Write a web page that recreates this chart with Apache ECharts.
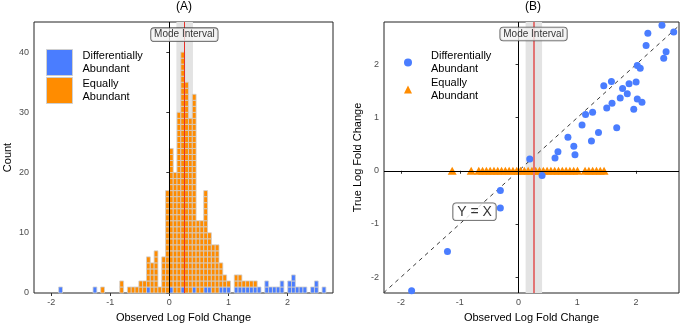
<!DOCTYPE html>
<html>
<head>
<meta charset="utf-8">
<script src="https://cdn.jsdelivr.net/npm/echarts@6/dist/echarts.min.js"></script>
<style>
  html, body { margin: 0; padding: 0; background: #fff; }
  #chart { width: 685px; height: 326px; }
</style>
</head>
<body>
<div id="chart"></div>
<script>
// histogram bins (centre of first bin, bin width) and counts per bin
const binStart = -1.84;
const binWidth = 0.0646;
const blueCounts = [
  1, 0, 0, 0, 0, 0, 0, 0, 0, 1,
  0, 0, 0, 0, 0, 0, 0, 0, 0, 0,
  0, 0, 0, 1, 0, 0, 0, 0, 0, 1,
  0, 0, 1, 0, 0, 1, 0, 0, 1, 1,
  0, 0, 1, 1, 1, 0, 1, 1, 1, 1,
  1, 1, 1, 0, 2, 1, 1, 1, 2, 0,
  2, 3, 1, 1, 1, 0, 1, 2, 0, 1
];
const orangeCounts = [
  0, 0, 0, 0, 0, 0, 0, 0, 0, 0,
  0, 1, 0, 0, 0, 0, 2, 0, 1, 1,
  1, 2, 2, 5, 5, 7, 1, 6, 17, 23,
  20, 30, 39, 35, 29, 32, 12, 12, 16, 9,
  8, 8, 4, 2, 1, 0, 2, 2, 1, 1,
  1, 1, 0, 0, 0, 0, 0, 0, 0, 0,
  0, 0, 0, 0, 0, 0, 0, 0, 0, 0
];

// differentially abundant taxa: observed vs true log fold change
const daObserved = [-1.82, -1.21, -0.31, -0.31, 0.19, 0.40, 0.62, 0.67, 0.84, 0.94,
  0.96, 1.08, 1.14, 1.26, 1.24, 1.36, 1.45, 1.50, 1.58, 1.59,
  1.67, 1.73, 1.77, 1.85, 1.88, 1.96, 2.00, 2.02, 2.02, 2.07,
  2.10, 2.17, 2.20, 2.44, 2.47, 2.51, 2.64];
const daTrue = [-2.26, -1.52, -0.70, -0.37, 0.22, -0.09, 0.24, 0.36, 0.63, 0.46,
  0.30, 0.86, 1.06, 1.10, 0.56, 0.72, 1.60, 1.18, 1.68, 1.27,
  0.81, 1.37, 1.55, 1.45, 1.64, 1.16, 1.67, 1.35, 1.98, 1.93,
  1.29, 2.36, 2.59, 2.74, 2.12, 2.24, 2.61];

const lfcTicks = [-2, -1, 0, 1, 2];
const countTicks = [0, 10, 20, 30, 40];
const trueTicks = [-2, -1, 0, 1, 2];

const modeLow = 0.12;
const modeHigh = 0.40;
const modeValue = 0.255;
const diagEnds = [-2.5, 3];

const BLUE = '#4a7dff';
const ORANGE = '#ff8c00';
const CELL_EDGE = '#cfcfcf';
const FONT = 'Liberation Sans, Arial, sans-serif';

const binCenter = k => binStart + k * binWidth;

const blueBins = [];
const orangeBins = [];
const eaPoints = [];
blueCounts.forEach((n, k) => { if (n > 0) blueBins.push([binCenter(k), n, 0]); });
orangeCounts.forEach((n, k) => {
  if (n > 0) {
    orangeBins.push([binCenter(k), n, blueCounts[k]]);
    eaPoints.push([binCenter(k), 0]);
  }
});
const daPoints = daObserved.map((x, i) => [x, daTrue[i]]);

function renderCells(params, api) {
  const x = api.value(0);
  const n = api.value(1);
  const base = api.value(2);
  const fill = api.visual('color');
  const children = [];
  for (let j = 0; j < n; j++) {
    const p0 = api.coord([x - binWidth / 2, base + j + 1]);
    const p1 = api.coord([x + binWidth / 2, base + j]);
    children.push({
      type: 'rect',
      shape: { x: p0[0], y: p0[1], width: p1[0] - p0[0], height: p1[1] - p0[1] },
      style: { fill: fill, stroke: CELL_EDGE, lineWidth: 0.8 }
    });
  }
  return { type: 'group', children: children };
}

const tickLabel = { color: '#4d4d4d', fontSize: 9, fontFamily: FONT, margin: 5 };
const axisName = { color: '#000', fontSize: 11, fontFamily: FONT };

function valueAxis(gridIndex, min, max, ticks, name, nameGap) {
  return {
    type: 'value', gridIndex, min, max, name,
    nameLocation: 'middle', nameGap, nameTextStyle: axisName,
    axisLine: { show: false },
    axisTick: { show: true, length: 3, customValues: ticks, lineStyle: { color: '#333' } },
    axisLabel: Object.assign({ customValues: ticks }, tickLabel),
    splitLine: { show: false }
  };
}

const boxLabel = {
  show: true, position: 'inside', fontFamily: FONT, color: '#000',
  backgroundColor: '#f2f2f2', borderColor: '#333', borderWidth: 0.8,
  borderRadius: 3
};

const titleText = { fontSize: 12, fontWeight: 'normal', fontFamily: FONT, color: '#000' };

const chart = echarts.init(document.getElementById('chart'));

chart.setOption({
  animation: false,
  title: [
    { text: '(A)', left: 184, top: 1, padding: 0, textAlign: 'center', textStyle: titleText },
    { text: '(B)', left: 533, top: 1, padding: 0, textAlign: 'center', textStyle: titleText }
  ],
  grid: [
    { left: 34, top: 22, width: 299, height: 271, show: true, borderColor: '#222',
      borderWidth: 1, containLabel: false, outerBoundsMode: 'none' },
    { left: 384, top: 22, width: 295, height: 271, show: true, borderColor: '#222',
      borderWidth: 1, containLabel: false, outerBoundsMode: 'none' }
  ],
  legend: [
    {
      orient: 'vertical', left: 46, top: 49, padding: 0, itemWidth: 26, itemHeight: 26, itemGap: 1,
      selectedMode: false,
      data: [
        { name: 'Differentially Abundant', icon: 'rect',
          itemStyle: { color: BLUE, borderColor: CELL_EDGE, borderWidth: 1 } },
        { name: 'Equally Abundant', icon: 'rect',
          itemStyle: { color: ORANGE, borderColor: CELL_EDGE, borderWidth: 1 } }
      ],
      formatter: n => n.replace(' ', '\n'),
      textStyle: { fontSize: 11, lineHeight: 12.5, fontFamily: FONT, color: '#000', padding: [0, 0, 0, 5] }
    },
    {
      orient: 'vertical', left: 404, top: 50, padding: 0, itemWidth: 8, itemHeight: 8, itemGap: 2,
      selectedMode: false,
      data: [
        { name: 'Differentially Abundant', icon: 'circle', itemStyle: { color: BLUE, borderWidth: 0 } },
        { name: 'Equally Abundant', icon: 'triangle', itemStyle: { color: ORANGE, borderWidth: 0 } }
      ],
      formatter: n => n.replace(' ', '\n'),
      textStyle: { fontSize: 11, lineHeight: 12.5, fontFamily: FONT, color: '#000', padding: [0, 0, 0, 14] }
    }
  ],
  xAxis: [
    valueAxis(0, -2.29, 2.77, lfcTicks, 'Observed Log Fold Change', 19),
    valueAxis(1, -2.29, 2.73, lfcTicks, 'Observed Log Fold Change', 19)
  ],
  yAxis: [
    valueAxis(0, 0, 45, countTicks, 'Count', 21),
    valueAxis(1, -2.3, 2.8, trueTicks, 'True Log Fold Change', 21)
  ],
  series: [
    // left panel: mode interval and reference lines
    {
      type: 'line', xAxisIndex: 0, yAxisIndex: 0, data: [], z: 1, silent: true,
      markArea: { silent: true, itemStyle: { color: '#e3e3e3' },
        data: [[{ xAxis: modeLow }, { xAxis: modeHigh }]] },
      markLine: { silent: true, symbol: ['none', 'none'], label: { show: false },
        data: [
          { xAxis: 0, lineStyle: { color: '#000', width: 1, type: 'solid' } },
          { xAxis: modeValue, lineStyle: { color: '#e8312a', width: 1, type: 'solid' } }
        ] }
    },
    {
      name: 'Differentially Abundant', type: 'custom', xAxisIndex: 0, yAxisIndex: 0, z: 3,
      itemStyle: { color: BLUE }, renderItem: renderCells, data: blueBins,
      encode: { x: 0, y: 1 }, silent: true
    },
    {
      name: 'Equally Abundant', type: 'custom', xAxisIndex: 0, yAxisIndex: 0, z: 3,
      itemStyle: { color: ORANGE }, renderItem: renderCells, data: orangeBins,
      encode: { x: 0, y: 1 }, silent: true
    },
    {
      type: 'scatter', xAxisIndex: 0, yAxisIndex: 0, z: 10, silent: true,
      symbolSize: 0, data: [[modeValue, 42.9]],
      label: Object.assign({ formatter: 'Mode Interval', fontSize: 10, padding: [2, 3, 1, 3] }, boxLabel)
    },
    // right panel
    {
      type: 'line', xAxisIndex: 1, yAxisIndex: 1, data: [], z: 1, silent: true,
      markArea: { silent: true, itemStyle: { color: '#e3e3e3' },
        data: [[{ xAxis: modeLow }, { xAxis: modeHigh }]] },
      markLine: { silent: true, symbol: ['none', 'none'], label: { show: false },
        data: [
          { xAxis: modeValue, lineStyle: { color: '#e27474', width: 2, type: 'solid' } },
          { xAxis: 0, lineStyle: { color: '#000', width: 1, type: 'solid' } },
          { yAxis: 0, lineStyle: { color: '#000', width: 1, type: 'solid' } }
        ] }
    },
    {
      type: 'line', xAxisIndex: 1, yAxisIndex: 1, z: 2, silent: true, symbol: 'none',
      data: diagEnds.map(v => [v, v]),
      lineStyle: { color: '#3a3a3a', width: 1, type: [4, 4] }
    },
    {
      name: 'Equally Abundant', type: 'scatter', xAxisIndex: 1, yAxisIndex: 1, z: 4, silent: true,
      symbol: 'triangle', symbolSize: [9, 8], itemStyle: { color: ORANGE, opacity: 1 },
      data: eaPoints
    },
    {
      name: 'Differentially Abundant', type: 'scatter', xAxisIndex: 1, yAxisIndex: 1, z: 5, silent: true,
      symbol: 'circle', symbolSize: 7, itemStyle: { color: BLUE, opacity: 1 },
      data: daPoints
    },
    {
      type: 'scatter', xAxisIndex: 1, yAxisIndex: 1, z: 10, silent: true,
      symbolSize: 0, data: [[modeValue, 2.575]],
      label: Object.assign({ formatter: 'Mode Interval', fontSize: 10, padding: [2, 3, 1, 3] }, boxLabel)
    },
    {
      type: 'scatter', xAxisIndex: 1, yAxisIndex: 1, z: 10, silent: true,
      symbolSize: 0, data: [[-0.75, -0.77]],
      label: Object.assign({}, boxLabel, { formatter: 'Y = X', fontSize: 14, padding: [2, 4, 1, 4],
        backgroundColor: '#fff' })
    }
  ]
});
</script>
</body>
</html>
